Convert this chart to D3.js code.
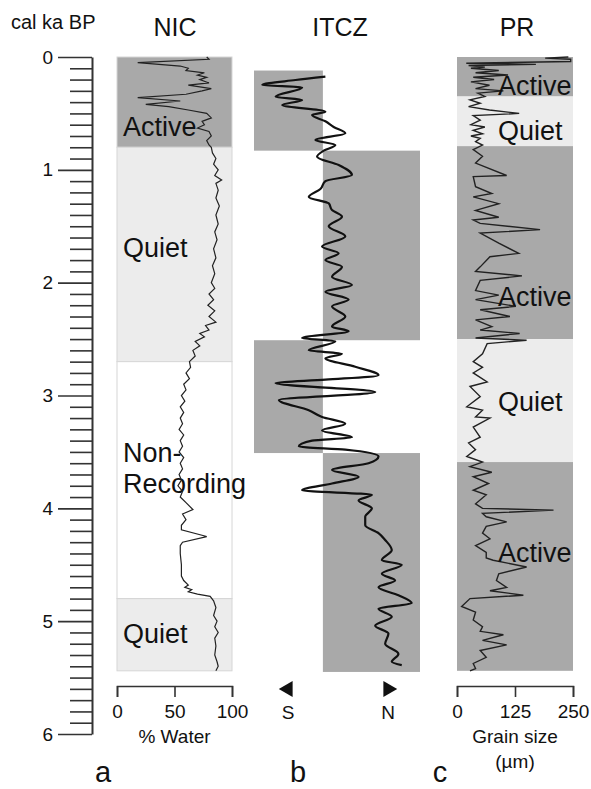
<!DOCTYPE html>
<html>
<head>
<meta charset="utf-8">
<script src="https://cdn.jsdelivr.net/npm/d3@7"></script>
<style>
  body { margin: 0; background: #fff; }
  svg text { font-family: "Liberation Sans", Arial, sans-serif; fill: #111; }
</style>
</head>
<body>
<div id="chart"></div>
<script>
// zones: [top, bottom, label]
var nicZones = [[0, 0.8, "Active"], [0.8, 2.7, "Quiet"], [2.7, 4.8, "Non-Recording"], [4.8, 5.44, "Quiet"]];
var itczBoxes = [[0.12, 0.83, "S"], [0.83, 2.51, "N"], [2.51, 3.51, "S"], [3.51, 5.45, "N"]];
var prZones = [[0, 0.35, "Active"], [0.35, 0.79, "Quiet"], [0.79, 2.5, "Active"], [2.5, 3.59, "Quiet"], [3.59, 5.44, "Active"]];

// NIC core, % water
var nicDepth = [0.00,0.02,0.05,0.08,0.10,0.12,0.14,0.16,0.18,0.20,0.23,0.25,0.28,0.30,0.33,0.36,0.39,0.42,0.44,0.47,0.50,0.52,0.54,0.57,0.60,0.63,0.66,0.70,0.74,0.78,0.80,0.85,0.90,0.95,1.00,1.05,1.09,1.12,1.18,1.25,1.32,1.40,1.48,1.55,1.62,1.70,1.78,1.85,1.92,2.00,2.05,2.10,2.15,2.20,2.25,2.30,2.35,2.38,2.42,2.45,2.48,2.52,2.56,2.60,2.65,2.70,2.75,2.80,2.85,2.90,2.95,3.00,3.05,3.10,3.15,3.20,3.25,3.30,3.35,3.40,3.45,3.50,3.55,3.60,3.65,3.70,3.75,3.80,3.85,3.90,3.95,4.01,4.05,4.10,4.15,4.19,4.25,4.30,4.33,4.40,4.50,4.60,4.64,4.68,4.70,4.72,4.74,4.76,4.78,4.82,4.88,4.95,5.00,5.05,5.10,5.15,5.22,5.30,5.36,5.40,5.44];
var nicWater = [78,80,18,55,62,60,76,70,78,72,80,62,82,74,60,18,55,25,45,62,78,80,82,74,76,70,80,82,78,80,82,83,86,84,88,85,91,86,88,86,89,86,88,85,87,84,86,83,85,82,85,80,84,79,85,80,86,77,80,72,76,68,72,66,68,63,64,60,63,58,60,56,59,55,58,55,57,54,58,55,57,54,58,55,57,54,56,53,57,55,60,66,57,60,56,56,78,57,55,55,56,56,58,62,59,65,62,70,81,84,86,84,87,85,88,85,86,85,87,88,86];

// ITCZ position index (S -> N)
var itczDepth = [0.174,0.204,0.248,0.270,0.352,0.381,0.426,0.485,0.514,0.570,0.620,0.676,0.735,0.780,0.830,0.883,0.957,1.046,1.100,1.170,1.240,1.297,1.356,1.415,1.500,1.590,1.680,1.740,1.800,1.860,1.950,2.020,2.080,2.150,2.210,2.300,2.390,2.430,2.490,2.520,2.600,2.630,2.670,2.745,2.820,2.860,2.890,2.970,3.040,3.130,3.190,3.250,3.310,3.370,3.400,3.450,3.480,3.540,3.600,3.660,3.720,3.780,3.840,3.880,3.930,4.000,4.075,4.150,4.220,4.280,4.370,4.460,4.500,4.580,4.640,4.700,4.770,4.840,4.890,4.960,5.040,5.110,5.200,5.290,5.360,5.390];
var itczIndex = [43,25,5,29,13,29,17,43,35,43,48,55,37,49,42,38,51,59,43,40,33,45,47,53,45,55,41,51,43,53,47,59,43,57,47,55,47,57,29,49,33,53,43,61,75,43,13,73,15,33,41,55,41,59,35,27,55,75,69,47,63,47,29,71,63,71,67,67,75,79,83,77,89,77,85,75,87,95,75,83,73,81,79,87,83,89];

// PR core, grain size (um)
var prDepth = [0.000,0.010,0.020,0.040,0.055,0.065,0.075,0.090,0.100,0.120,0.140,0.160,0.180,0.200,0.220,0.250,0.280,0.300,0.320,0.350,0.380,0.410,0.440,0.470,0.500,0.520,0.560,0.600,0.620,0.650,0.680,0.700,0.720,0.750,0.780,0.820,0.880,0.940,1.050,1.060,1.150,1.210,1.240,1.300,1.360,1.420,1.445,1.475,1.530,1.560,1.650,1.740,1.770,1.860,1.900,1.940,1.980,2.070,2.110,2.150,2.210,2.240,2.300,2.330,2.390,2.420,2.450,2.490,2.510,2.540,2.630,2.700,2.750,2.800,2.880,2.920,3.010,3.100,3.130,3.190,3.200,3.280,3.370,3.420,3.480,3.540,3.590,3.630,3.680,3.720,3.780,3.840,3.880,3.960,4.000,4.016,4.045,4.075,4.120,4.160,4.220,4.270,4.330,4.390,4.440,4.460,4.520,4.580,4.640,4.700,4.730,4.770,4.800,4.870,4.920,4.990,5.050,5.090,5.120,5.170,5.210,5.260,5.320,5.375,5.420,5.440];
var prGrain = [240,190,245,245,20,170,25,60,30,90,40,110,35,80,30,70,40,100,45,60,28,50,25,70,134,35,50,30,60,35,55,30,50,40,55,35,55,40,107,35,40,75,35,90,40,90,35,50,179,50,90,133,71,50,40,140,50,40,90,40,127,50,114,40,75,50,135,40,150,65,55,35,55,35,65,28,50,21,55,40,71,35,50,25,40,21,55,28,75,35,68,35,63,40,55,208,55,63,107,63,55,71,40,63,63,78,150,90,85,107,71,143,28,10,40,35,55,50,100,55,107,50,63,35,40,28];

var ageTicks = [0, 1, 2, 3, 4, 5, 6];
var nicTicks = [0, 50, 100];
var prTicks = [0, 125, 250];

var width = 591, height = 789;
var dark = "#a9a9a9", light = "#ececec";

var svg = d3.select("#chart").append("svg")
  .attr("width", width)
  .attr("height", height);

var y = d3.scaleLinear().domain([0, 6]).range([57, 734]);
var xNic = d3.scaleLinear().domain([0, 100]).range([117, 232]);
var xItcz = d3.scaleLinear().domain([0, 100]).range([254, 420]);
var xPr = d3.scaleLinear().domain([0, 250]).range([457, 573]);

// age axis with minor ticks
var minor = d3.range(0, 60).map(function(i) { return i / 10; }).filter(function(d) { return d % 1 !== 0; });
svg.append("g")
  .attr("transform", "translate(92,0)")
  .call(d3.axisLeft(y).tickValues(minor).tickSize(22).tickFormat(""))
  .call(function(g) { g.select(".domain").remove(); })
  .selectAll("line").attr("stroke", "#333").attr("stroke-width", 1.6);
var ageAxis = svg.append("g")
  .attr("transform", "translate(92,0)")
  .call(d3.axisLeft(y).tickValues(ageTicks).tickSize(34).tickSizeOuter(0).tickFormat(d3.format("d")));
ageAxis.select(".domain").attr("stroke", "#333").attr("stroke-width", 2);
ageAxis.selectAll("line").attr("stroke", "#333").attr("stroke-width", 1.6);
ageAxis.selectAll("text").attr("font-size", 19).attr("x", -39);

svg.append("text").attr("x", 11).attr("y", 29).attr("font-size", 20).text("cal ka BP");

// titles
[["NIC", 175], ["ITCZ", 340], ["PR", 517]].forEach(function(t) {
  svg.append("text").attr("x", t[1]).attr("y", 36).attr("text-anchor", "middle")
    .attr("font-size", 25).text(t[0]);
});

// NIC zones
svg.append("g").selectAll("rect")
  .data(nicZones).enter().append("rect")
  .attr("x", xNic(0)).attr("width", xNic(100) - xNic(0))
  .attr("y", function(d) { return y(d[0]); })
  .attr("height", function(d) { return y(d[1]) - y(d[0]); })
  .attr("fill", function(d) { return d[2] == "Active" ? dark : d[2] == "Quiet" ? light : "#fff"; })
  .attr("stroke", "#d6d6d6").attr("stroke-width", 1);

// ITCZ boxes
svg.append("g").selectAll("rect")
  .data(itczBoxes).enter().append("rect")
  .attr("x", function(d) { return d[2] == "S" ? xItcz(0) : xItcz(41.5); })
  .attr("width", function(d) { return d[2] == "S" ? xItcz(41.5) - xItcz(0) : xItcz(100) - xItcz(41.5); })
  .attr("y", function(d) { return y(d[0]); })
  .attr("height", function(d) { return y(d[1]) - y(d[0]); })
  .attr("fill", dark);

// PR zones
svg.append("g").selectAll("rect")
  .data(prZones).enter().append("rect")
  .attr("x", xPr(0)).attr("width", xPr(250) - xPr(0))
  .attr("y", function(d) { return y(d[0]); })
  .attr("height", function(d) { return y(d[1]) - y(d[0]); })
  .attr("fill", function(d) { return d[2] == "Active" ? dark : light; });

// zone labels
var labelFont = 27;
var nicLabels = [["Active", 136], ["Quiet", 257], ["Non-", 462], ["Recording", 493], ["Quiet", 643]];
nicLabels.forEach(function(l) {
  svg.append("text").attr("x", 123).attr("y", l[1]).attr("font-size", labelFont).text(l[0]);
});

// curves
var lineNic = d3.line()
  .x(function(d, i) { return xNic(nicWater[i]); })
  .y(function(d) { return y(d); });
svg.append("path").datum(nicDepth).attr("d", lineNic)
  .attr("fill", "none").attr("stroke", "#222").attr("stroke-width", 1.2);

var lineItcz = d3.line()
  .curve(d3.curveMonotoneY)
  .x(function(d, i) { return xItcz(itczIndex[i]); })
  .y(function(d) { return y(d); });
svg.append("path").datum(itczDepth).attr("d", lineItcz)
  .attr("fill", "none").attr("stroke", "#111").attr("stroke-width", 2.2);

var linePr = d3.line()
  .x(function(d, i) { return xPr(prGrain[i]); })
  .y(function(d) { return y(d); });
svg.append("path").datum(prDepth).attr("d", linePr)
  .attr("fill", "none").attr("stroke", "#222").attr("stroke-width", 1.4);

var prLabels = [["Active", 95], ["Quiet", 140], ["Active", 306], ["Quiet", 411], ["Active", 562]];
prLabels.forEach(function(l) {
  svg.append("text").attr("x", 498).attr("y", l[1]).attr("font-size", labelFont).text(l[0]);
});

// bottom axes
function bottomAxis(scale, ticks, lines, letter, letterX) {
  var g = svg.append("g").attr("transform", "translate(0,686)")
    .call(d3.axisBottom(scale).tickValues(ticks).tickSize(11).tickSizeOuter(11).tickPadding(8));
  g.select(".domain").attr("stroke", "#333").attr("stroke-width", 1.6);
  g.selectAll("line").attr("stroke", "#333").attr("stroke-width", 1.6);
  g.selectAll("text").attr("font-size", 19).attr("fill", "#111");
  var cx = (scale.range()[0] + scale.range()[1]) / 2;
  lines.forEach(function(t, i) {
    svg.append("text").attr("x", cx).attr("y", 743 + i * 25).attr("text-anchor", "middle")
      .attr("font-size", 19).text(t);
  });
  svg.append("text").attr("x", letterX).attr("y", 782).attr("text-anchor", "middle")
    .attr("font-size", 29).text(letter);
}
bottomAxis(xNic, nicTicks, ["% Water"], "a", 103);
bottomAxis(xPr, prTicks, ["Grain size", "(\u00b5m)"], "c", 440);

// S / N arrows
var arrow = d3.symbol().type(d3.symbolTriangle).size(110);
[["S", 288, -90], ["N", 388, 90]].forEach(function(a) {
  svg.append("path").attr("d", arrow)
    .attr("transform", "translate(" + a[1] + ",689) rotate(" + a[2] + ")")
    .attr("fill", "#111");
  svg.append("text").attr("x", a[1]).attr("y", 719).attr("text-anchor", "middle")
    .attr("font-size", 19).text(a[0]);
});
svg.append("text").attr("x", 298).attr("y", 782).attr("text-anchor", "middle")
  .attr("font-size", 29).text("b");
</script>
</body>
</html>
